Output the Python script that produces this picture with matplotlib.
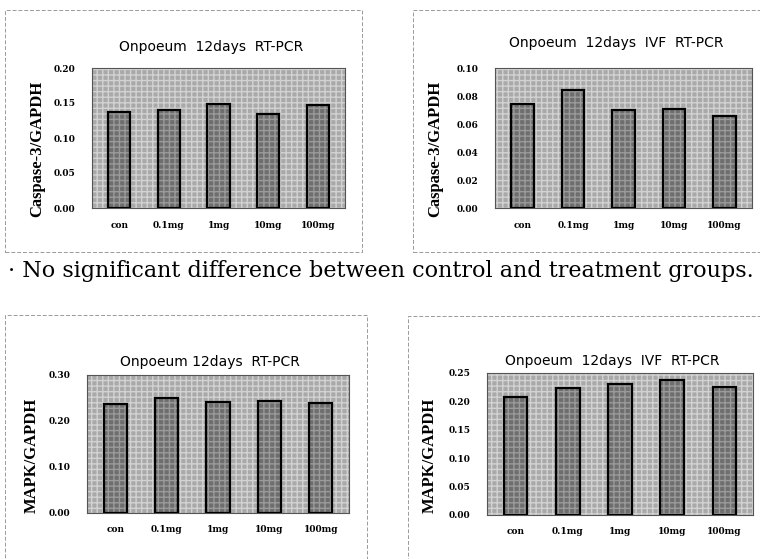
import matplotlib.pyplot as plt
from matplotlib.patches import Rectangle

# doses on the x axis, same for all four charts
doses = ["con", "0.1mg", "1mg", "10mg", "100mg"]

# values
casp_rt = [0.137, 0.140, 0.148, 0.134, 0.147]
casp_ivf = [0.074, 0.084, 0.070, 0.071, 0.066]
mapk_rt = [0.236, 0.249, 0.241, 0.243, 0.240]
mapk_ivf = [0.208, 0.223, 0.230, 0.237, 0.226]

casp_rt_ticks = [0.00, 0.05, 0.10, 0.15, 0.20]
casp_ivf_ticks = [0.00, 0.02, 0.04, 0.06, 0.08, 0.10]
mapk_rt_ticks = [0.00, 0.10, 0.20, 0.30]
mapk_ivf_ticks = [0.00, 0.05, 0.10, 0.15, 0.20, 0.25]

W, H = 760, 559


def px_rect(x0, y0, x1, y1):
    # pixel box (top-left origin) -> figure fraction
    return [x0 / W, (H - y1) / H, (x1 - x0) / W, (y1 - y0) / H]


def bar_panel(fig, rect, values, ticks, title, ylabel, title_y, ylab_x):
    ax = fig.add_axes(rect)
    ax.set_facecolor("#a9a9a9")
    # dithered background imitation
    ax.add_patch(Rectangle((0, 0), 1, 1, transform=ax.transAxes,
                           facecolor="none", edgecolor="#d2d2d2",
                           hatch="+++", lw=0, zorder=0))
    x = range(len(doses))
    ax.bar(x, values, width=0.45, color="#6e6e6e", edgecolor="#9a9a9a",
           hatch="+++", lw=0, zorder=2)
    ax.bar(x, values, width=0.45, fill=False, edgecolor="black",
           lw=1.6, zorder=3)
    ax.set_xlim(-0.55, len(doses) - 0.45)
    ax.set_ylim(0, ticks[-1])
    ax.set_yticks(ticks)
    ax.set_yticklabels([f"{t:.2f}" for t in ticks], family="DejaVu Serif",
                       fontsize=6.5, fontweight="bold")
    ax.set_xticks(list(x))
    ax.set_xticklabels(doses, family="DejaVu Serif", fontsize=6.5,
                       fontweight="bold")
    ax.tick_params(length=0, pad=9, axis="x")
    ax.tick_params(length=0, pad=12, axis="y")
    for s in ax.spines.values():
        s.set_color("#555555")
        s.set_linewidth(0.8)
    bb = ax.get_position()
    fig.text(bb.x0 + bb.width / 2 - 0.01, 1 - title_y / H, title,
             ha="center", va="center", fontsize=10, family="DejaVu Sans")
    fig.text(ylab_x / W, bb.y0 + bb.height / 2 - 0.02, ylabel,
             rotation=90, ha="center", va="center", fontsize=12,
             fontweight="bold", family="Liberation Serif")
    return ax


def panel_border(fig, x0, y0, x1, y1):
    fig.patches.append(Rectangle((x0 / W, (H - y1) / H),
                                 (x1 - x0) / W, (y1 - y0) / H,
                                 transform=fig.transFigure, fill=False,
                                 edgecolor="#9a9a9a", lw=0.7, ls=(0, (4, 2))))


def main():
    fig = plt.figure(figsize=(W / 100, H / 100), dpi=100)

    panel_border(fig, 5, 10, 362, 252)
    panel_border(fig, 413, 10, 762, 252)
    panel_border(fig, 5, 315, 367, 562)
    panel_border(fig, 408, 316, 762, 562)

    bar_panel(fig, px_rect(92, 68, 345, 208), casp_rt, casp_rt_ticks,
              "Onpoeum  12days  RT-PCR", "Caspase-3/GAPDH", 47, 37)
    bar_panel(fig, px_rect(495, 68, 752, 208), casp_ivf, casp_ivf_ticks,
              "Onpoeum  12days  IVF  RT-PCR", "Caspase-3/GAPDH", 43, 435)
    bar_panel(fig, px_rect(87, 375, 349, 513), mapk_rt, mapk_rt_ticks,
              "Onpoeum 12days  RT-PCR", "MAPK/GAPDH", 362, 32)
    bar_panel(fig, px_rect(487, 373, 753, 515), mapk_ivf, mapk_ivf_ticks,
              "Onpoeum  12days  IVF  RT-PCR", "MAPK/GAPDH", 361, 430)

    fig.text(8 / W, 1 - 271 / H,
             "\u00b7 No significant difference between control and treatment groups.",
             ha="left", va="center", fontsize=16, family="DejaVu Serif")

    plt.savefig("out.png", dpi=100)


if __name__ == "__main__":
    main()
